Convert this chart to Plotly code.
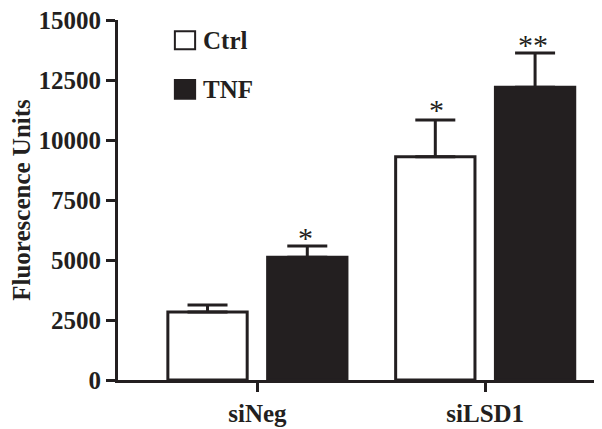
import plotly.graph_objects as go

categories = ["siNeg", "siLSD1"]
ctrl_values = [2830, 9300]
ctrl_errors = [300, 1530]
tnf_values = [5110, 12200]
tnf_errors = [470, 1430]
ctrl_marks = ["", "*"]
tnf_marks = ["*", "**"]
y_ticks = [0, 2500, 5000, 7500, 10000, 12500, 15000]

INK = "#231f20"
FONT = "Liberation Serif"

fig = go.Figure()
fig.add_trace(go.Bar(
    name="Ctrl", x=categories, y=ctrl_values,
    marker=dict(color="white", line=dict(color=INK, width=3)),
    error_y=dict(type="data", array=ctrl_errors, arrayminus=[0, 0], symmetric=False,
                 thickness=3, width=20, color=INK),
    showlegend=False,
))
fig.add_trace(go.Bar(
    name="TNF", x=categories, y=tnf_values,
    marker=dict(color=INK, line=dict(color=INK, width=3)),
    error_y=dict(type="data", array=tnf_errors, arrayminus=[0, 0], symmetric=False,
                 thickness=3, width=20, color=INK),
    showlegend=False,
))

ann = []
for c, v, e, m in zip(categories, ctrl_values, ctrl_errors, ctrl_marks):
    if m:
        ann.append(dict(x=c, y=v + e, text=m, xshift=-49, yshift=-8, yanchor="bottom",
                        showarrow=False, font=dict(family=FONT, size=30, color=INK)))
for c, v, e, m in zip(categories, tnf_values, tnf_errors, tnf_marks):
    if m:
        ann.append(dict(x=c, y=v + e, text=m, xshift=48, yshift=-10, yanchor="bottom",
                        showarrow=False, font=dict(family=FONT, size=30, color=INK)))

# legend drawn manually
ann.append(dict(xref="paper", yref="paper", x=0.172, y=0.944, text="<b>Ctrl</b>",
                xanchor="left", yanchor="middle", showarrow=False,
                font=dict(family=FONT, size=25, color=INK)))
ann.append(dict(xref="paper", yref="paper", x=0.172, y=0.806, text="<b>TNF</b>",
                xanchor="left", yanchor="middle", showarrow=False,
                font=dict(family=FONT, size=25, color=INK)))
shapes = [
    dict(type="rect", xref="paper", yref="paper", x0=0.118, x1=0.160, y0=0.919, y1=0.969,
         line=dict(color=INK, width=2), fillcolor="white"),
    dict(type="rect", xref="paper", yref="paper", x0=0.118, x1=0.160, y0=0.781, y1=0.833,
         line=dict(color=INK, width=2), fillcolor=INK),
]

fig.update_layout(
    width=594, height=421,
    margin=dict(l=110, r=2, t=12, b=49),
    paper_bgcolor="white", plot_bgcolor="white",
    barmode="group", bargap=0.124, bargroupgap=0.205,
    font=dict(family=FONT, size=24, color=INK),
    annotations=ann, shapes=shapes,
    xaxis=dict(type="category", range=[-0.612, 1.504], showline=True, linecolor=INK,
               linewidth=3, ticks="outside", ticklen=9, tickwidth=3, tickcolor=INK,
               showgrid=False, zeroline=False, automargin=False,
               tickvals=categories, ticktext=["<b>%s</b>" % c for c in categories],
               tickfont=dict(family=FONT, size=25, color=INK)),
    yaxis=dict(range=[0, 15000], showline=True, linecolor=INK, linewidth=3,
               ticks="outside", ticklen=9, tickwidth=3, tickcolor=INK,
               showgrid=False, zeroline=False, automargin=False,
               ticklabeloverflow="allow",
               tickvals=y_ticks, ticktext=["<b>%d</b>" % t for t in y_ticks],
               tickfont=dict(family=FONT, size=25, color=INK),
               title=dict(text="<b>Fluorescence Units</b>", standoff=10,
                          font=dict(family=FONT, size=25, color=INK))),
)

fig.write_html("out.html")
